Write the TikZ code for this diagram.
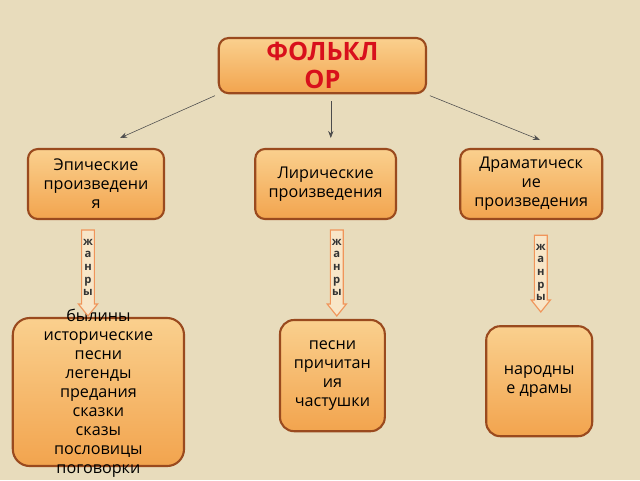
\documentclass[tikz,border=0pt]{standalone}
\usepackage{fontspec}
\setmainfont{Open Sans}
\usetikzlibrary{arrows.meta}
\definecolor{paper}{HTML}{E8DCBC}
\definecolor{boxtop}{HTML}{FAD08E}
\definecolor{boxbot}{HTML}{F2A44E}
\definecolor{boxline}{HTML}{9A4A1E}
\definecolor{titlered}{HTML}{D8101C}
\definecolor{jline}{HTML}{F0955A}
\definecolor{jfill}{HTML}{F8E6C8}
\begin{document}
\begin{tikzpicture}[
        box_style/.style={draw=boxline, line width=1.5pt, rounded corners=7pt,
            top color=boxtop, bottom color=boxbot, align=center,
            font=\fontsize{11.5}{13.5}\selectfont, inner sep=1pt},
        edge_style/.style={draw=black!70, thin, -{Stealth[length=5pt]}},
        genre_style/.style={draw=jline, fill=jfill, line width=0.8pt}]
        \fill[paper] (0,0) rectangle (16,-12);

        \node [box_style, minimum width=5.18cm, minimum height=1.38cm, text=titlered,
            font=\fontsize{18}{20}\selectfont\bfseries](fk) at (8.06,-1.64) {ФОЛЬКЛ\\ОР};
        \node [box_style, minimum width=3.4cm, minimum height=1.75cm](ep) at (2.4,-4.6) {Эпические\\произведени\\я};
        \node [box_style, minimum width=3.52cm, minimum height=1.75cm](ly) at (8.14,-4.6) {Лирические\\произведения};
        \node [box_style, minimum width=3.55cm, minimum height=1.75cm](dr) at (13.28,-4.6) {Драматическ\\ие\\произведения};
        \node [box_style, minimum width=4.28cm, minimum height=3.7cm, rounded corners=12pt](b1) at (2.46,-9.8) {};
        \node [align=center, font=\fontsize{11.5}{13.5}\selectfont, inner sep=0pt, anchor=north](b1t) at (2.46,-7.72)
            {былины\\исторические\\песни\\легенды\\предания\\сказки\\сказы\\пословицы\\поговорки};
        \node [box_style, minimum width=2.62cm, minimum height=2.78cm, rounded corners=10pt](b2) at (8.31,-9.39)
            {песни\\причитан\\ия\\частушки};
        \node [box_style, minimum width=2.65cm, minimum height=2.75cm, rounded corners=10pt](b3) at (13.48,-9.53)
            {народны\\е драмы};

        \coordinate (e1) at (3.0,-3.45);
        \coordinate (e2) at (8.27,-3.45);
        \coordinate (e3) at (13.5,-3.5);
        \draw [edge_style] ([xshift=-2pt,yshift=-1pt]fk.south west) -- (e1);
        \draw [edge_style] ([xshift=0.21cm,yshift=-5pt]fk.south) -- (e2);
        \draw [edge_style] ([xshift=2pt,yshift=-1pt]fk.south east) -- (e3);

        \foreach \x/\yt/\yb in {2.2/-5.75/-7.9, 8.42/-5.75/-7.9, 13.52/-5.88/-7.8} {
            \draw [genre_style] (\x-0.16,\yt) -- (\x+0.16,\yt) -- (\x+0.16,\yb+0.3)
                -- (\x+0.24,\yb+0.3) -- (\x,\yb) -- (\x-0.24,\yb+0.3) -- (\x-0.16,\yb+0.3) -- cycle;
            \node [font=\fontsize{8}{9}\selectfont\bfseries, text=black!80, align=center, anchor=north]
                at (\x,\yt-0.1) {ж\\а\\н\\р\\ы};
        }
        \end{tikzpicture}
\end{document}
